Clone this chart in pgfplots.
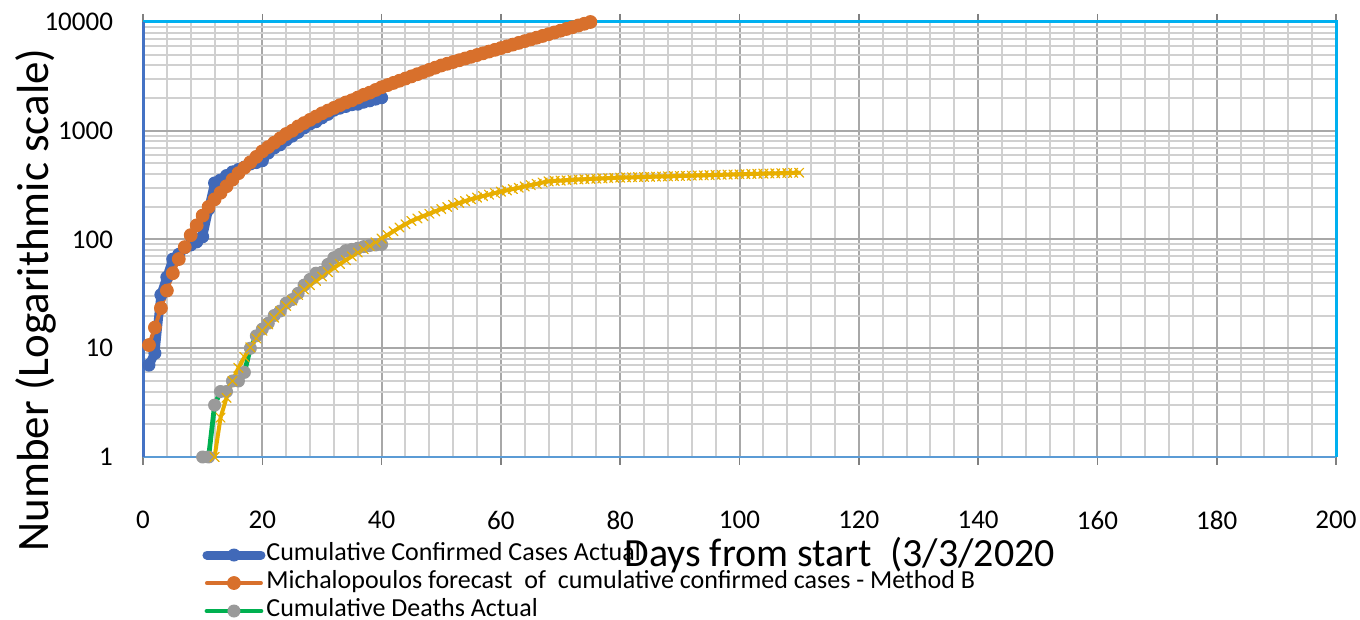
\documentclass[border=0pt]{standalone}
\usepackage{fontspec}
\setmainfont{Carlito}
\usepackage{pgfplots}
\pgfplotsset{compat=1.18}
\definecolor{cblue}{HTML}{4169B8}
\definecolor{corange}{HTML}{D8702C}
\definecolor{cgray}{HTML}{9A9A9A}
\definecolor{cgreen}{HTML}{00B050}
\definecolor{cyellow}{HTML}{E8AE00}
\definecolor{ccyan}{HTML}{00B0F0}
\definecolor{caxblue}{HTML}{4472C4}
\definecolor{caxbot}{HTML}{5B9BD5}
\definecolor{gridmajor}{HTML}{A8A8A8}
\definecolor{gridminor}{HTML}{D0D0D0}
\begin{document}
\begin{tikzpicture}
\path[use as bounding box] (0,0) rectangle (680pt,310pt);
\begin{axis}[
  at={(71.5pt,81.5pt)}, anchor=south west,
  scale only axis, width=596.5pt, height=217.5pt,
  xmin=0, xmax=200, ymode=log, ymin=1, ymax=10000,
  xtick={0,20,...,200}, minor x tick num=4,
  ytick={1,10,100,1000,10000}, yticklabels={1,10,100,1000,10000},
  xmajorgrids, xminorgrids, ymajorgrids, yminorgrids,
  major grid style={color=gridmajor, line width=1pt},
  minor grid style={color=gridminor, line width=1pt},
  axis line style={draw=none},
  tick align=outside, major tick length=4pt, minor tick length=0pt,
  xtick style={color=gray, line width=0.8pt},
  ytick style={draw=none},
  ticklabel style={font=\fontsize{13.5}{15}\selectfont},
  xticklabel style={yshift=-19.5pt},
  yticklabel style={xshift=-7.5pt},
  /pgf/number format/assume math mode=true,
  clip=false,
  xlabel={Days from start\ \ (3/3/2020},
  xlabel style={at={(0.584,-0.251)}, anchor=base, font=\fontsize{20}{24}\selectfont, inner sep=0pt, text depth=0pt},
  ylabel={Number (Logarithmic scale)},
  ylabel style={at={(-0.0796,0.361)}, anchor=base, font=\fontsize{22.5}{26}\selectfont, inner sep=0pt},
  legend style={at={(0.0495,-0.198)}, anchor=north west, draw=none, fill=none,
    font=\fontsize{13}{13}\selectfont, inner sep=0pt, row sep=2.5pt,
    nodes={inner sep=0.5pt, text height=8pt, text depth=2.5pt}},
  legend cell align=left,
  legend image code/.code={\draw[mark repeat=2,mark phase=2,#1] plot coordinates {(0pt,0pt) (13.5pt,0pt) (27pt,0pt)};},
]
\draw[caxbot, line width=1pt] (rel axis cs:0,0) -- (rel axis cs:1,0);
\draw[ccyan, line width=1.5pt] (rel axis cs:0,1) -- (rel axis cs:1,1) -- (rel axis cs:1,0);
\draw[caxblue, line width=1.5pt] (rel axis cs:0,0) -- (rel axis cs:0,1);

\addplot[color=cblue, line width=4.5pt, line cap=round, line join=round, mark=*, mark size=3pt, mark options={fill=cblue, draw=cblue, line width=0.5pt}] table {
1 7
2 9
3 31
4 45
5 66
6 73
7 84
8 89
9 95
10 106
11 190
12 331
13 352
14 387
15 418
16 440
17 464
18 495
19 510
20 530
21 624
22 695
23 743
24 821
25 892
26 966
27 1061
28 1156
29 1212
30 1314
31 1415
32 1544
33 1613
34 1673
35 1735
36 1755
37 1832
38 1884
39 1955
40 2011
};
\addlegendentry{Cumulative Confirmed Cases Actual}

\addplot[color=corange, line width=2pt, line cap=round, line join=round, mark=*, mark size=3.2pt, mark options={fill=corange, draw=corange, line width=0.5pt}] table {
1 10.7
2 15.5
3 23.4
4 33.9
5 49.0
6 66.1
7 85.1
8 109.6
9 134.9
10 166
11 199.5
12 234
13 269
14 309
15 355
16 407
17 457
18 513
19 575
20 646
21 708
22 776
23 851
24 933
25 1000
26 1096
27 1175
28 1259
29 1349
30 1445
31 1531
32 1622
33 1718
34 1820
35 1905
36 2018
37 2138
38 2239
39 2371
40 2512
41 2630
42 2754
43 2884
44 3020
45 3162
46 3311
47 3467
48 3631
49 3802
50 3981
51 4130
52 4285
53 4446
54 4613
55 4786
56 4966
57 5152
58 5346
59 5546
60 5754
61 5970
62 6194
63 6427
64 6668
65 6918
66 7178
67 7447
68 7727
69 8017
70 8318
71 8630
72 8954
73 9290
74 9638
75 10000
};
\addlegendentry{Michalopoulos forecast\ \ of\ \ cumulative confirmed cases - Method B}

\addplot[color=cgreen, line width=2.4pt, line cap=round, line join=round, mark=*, mark size=3pt, mark options={fill=cgray, draw=cgray, line width=0.5pt}] table {
10 1
11 1
12 3
13 4
14 4
15 5
16 5
17 6
18 10
19 13
20 15
21 17
22 20
23 22
24 26
25 28
26 32
27 38
28 43
29 49
30 50
31 59
32 68
33 73
34 79
35 81
36 83
37 86
38 88
39 89
40 90
};
\addlegendentry{Cumulative Deaths Actual}

\addplot[forget plot, color=cyellow, line width=2pt, line cap=round, line join=round, mark=x, mark size=3.2pt, mark options={draw=cyellow, line width=0.6pt, solid}] table {
12 1
13 2.3
14 3.5
15 5.0
16 6.6
17 8.3
18 10.2
19 12.3
20 14.5
21 16.6
22 19.1
23 21.9
24 24.5
25 27.5
26 30.9
27 34.7
28 38.0
29 41.7
30 45.7
31 50.1
32 55.0
33 59.6
34 64.6
35 70.0
36 75.9
37 81.3
38 87.1
39 94
40 102
41 110
42 119
43 128.8
44 138.0
45 147.9
46 156.0
47 164.1
48 172.6
49 181.6
50 190.5
51 199.1
52 208.0
53 216.8
54 225.4
55 234.4
56 242.7
57 250.6
58 258.8
59 267.3
60 275.4
61 283.1
62 291.1
63 299.2
64 307.6
65 316.2
66 325.1
67 334.2
68 342.8
69 345.9
70 348.3
71 350.8
72 354.0
73 356.5
74 358.1
75 360.6
76 362.2
77 364.8
78 366.4
79 369.0
80 370.7
81 372.0
82 373.3
83 374.6
84 375.8
85 377.1
86 378.4
87 379.8
88 381.1
89 382.4
90 383.7
91 385.1
92 386.4
93 388.1
94 389.0
95 390.8
96 392.6
97 393.6
98 395.4
99 396.3
100 398.1
101 399.0
102 400.9
103 401.8
104 403.6
105 404.6
106 405.5
107 407.4
108 408.3
109 410.2
110 411.1
};
\end{axis}
\end{tikzpicture}
\end{document}
